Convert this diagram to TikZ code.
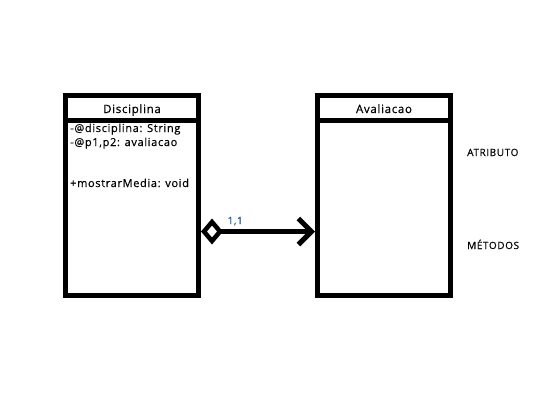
\documentclass[tikz,border=0pt]{standalone}
\usepackage{fontspec}
\setmainfont{Open Sans}[LetterSpace=6, FakeBold=0.4]
\usetikzlibrary{calc}
\usetikzlibrary{arrows.meta}
\usetikzlibrary{positioning}
\definecolor{multblue}{RGB}{20,90,170}

\begin{document}
\begin{tikzpicture}[x=1pt, y=-1pt,
    classbox/.style={draw, line width=5pt, minimum width=133pt, minimum height=200pt, inner sep=0pt},
    classname/.style={anchor=base, inner sep=0pt, font=\fontsize{11.5}{13}\selectfont},
    member/.style={anchor=base west, inner sep=0pt, font=\fontsize{11}{12}\selectfont},
    sidenote/.style={anchor=base west, inner sep=0pt, font=\fontsize{10}{12}\selectfont},
    assoc/.style={line width=5pt, {Diamond[open, length=22pt, width=26pt, line width=4.5pt]}-{Straight Barb[length=13pt, width=26pt]}}]

    % Page frame
    \useasboundingbox (0,0) rectangle (559,402);

    % The two class boxes
    \node[classbox] (disc) at (132,195.5) {};
    \node[classbox] (aval) at (384,195.5) {};

    % Header bars
    \draw[line width=5pt] ($(disc.north west)+(0,27.5)$) -- ($(disc.north east)+(0,27.5)$);
    \draw[line width=5pt] ($(aval.north west)+(0,27.5)$) -- ($(aval.north east)+(0,27.5)$);

    % Class names
    \node[classname] (discname) at ($(disc.north)+(0,20)$) {Disciplina};
    \node[classname] (avalname) at ($(aval.north)+(0,20)$) {Avaliacao};

    % Members of Disciplina
    \node[member] (attrdisc) at ($(disc.north west)+(7,39)$) {-@disciplina: String};
    \node[member] (attrnotas) at ($(disc.north west)+(7,53)$) {-@p1,p2: avaliacao};
    \node[member] (opmedia) at ($(disc.north west)+(7,94)$) {+mostrarMedia: void};

    % Aggregation from Disciplina to Avaliacao
    \draw[assoc] ($(disc.east)+(0,36)$) -- ($(aval.west)+(0,36)$)
        node[pos=0.3, anchor=base, yshift=7.5pt, inner sep=0pt, text=multblue, font=\fontsize{10}{12}\selectfont] (mult) {1,1};

    % Side notes
    \node[sidenote] (atrib) at (467,156) {ATRIBUTO};
    \node[sidenote] (metod) at (467,249) {MÉTODOS};

\end{tikzpicture}
\end{document}
